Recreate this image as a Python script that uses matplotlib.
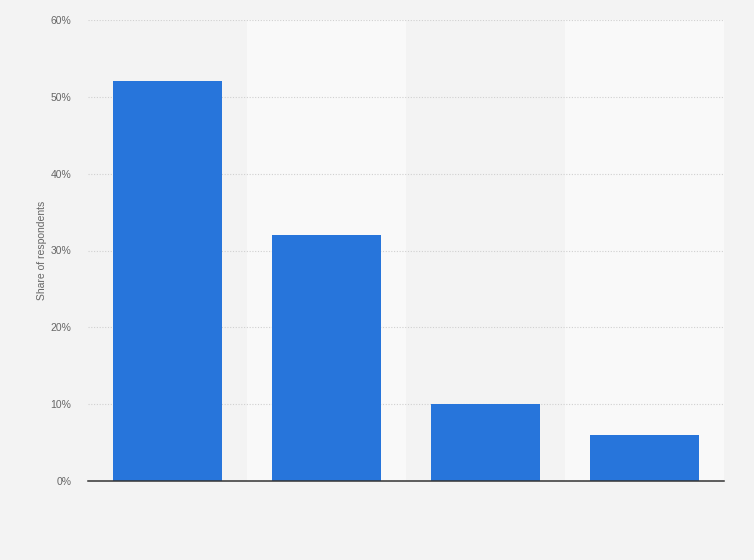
import numpy as np
from matplotlib import pyplot as plt
from matplotlib.ticker import FuncFormatter

plt.rcParams['font.family'] = ['Liberation Sans', 'DejaVu Sans']

# Data (no category labels shown)
categories = ["A", "B", "C", "D"]
shares = [52, 32, 10, 6]
y_ticks = [0, 10, 20, 30, 40, 50, 60]

bg = "#f3f3f3"
band_light = "#f9f9f9"
bar_color = "#2775db"

fig = plt.figure(figsize=(7.54, 5.6), dpi=100, facecolor=bg)
ax = fig.add_axes([88 / 754, 79 / 560, 636 / 754, 461 / 560])
ax.set_facecolor(bg)

x = np.arange(len(categories))
# alternating column bands
for i in x:
    if i % 2 == 1:
        ax.axvspan(i - 0.5, i + 0.5, color=band_light, zorder=0, lw=0)

ax.bar(x, shares, width=0.686, color=bar_color, zorder=3)

ax.set_xlim(-0.5, len(categories) - 0.5)
ax.set_ylim(0, 60)
ax.set_yticks(y_ticks)
ax.yaxis.set_major_formatter(FuncFormatter(lambda v, p: f"{v:.0f}%"))
ax.set_xticks([])
ax.grid(axis="y", color="#d0d0d0", linestyle=(0, (1, 1.5)), linewidth=0.8, zorder=1)
ax.tick_params(axis="y", length=0, labelsize=7.5, labelcolor="#666666", pad=12)

for side in ["top", "right", "left"]:
    ax.spines[side].set_visible(False)
ax.spines["bottom"].set_color("#333333")
ax.spines["bottom"].set_linewidth(1.1)
ax.spines["bottom"].set_zorder(4)

ax.set_ylabel("Share of respondents", fontsize=7.5, color="#666666")
ax.yaxis.set_label_coords(-0.064, 0.5)

fig.savefig("out.png", dpi=100, facecolor=bg)
